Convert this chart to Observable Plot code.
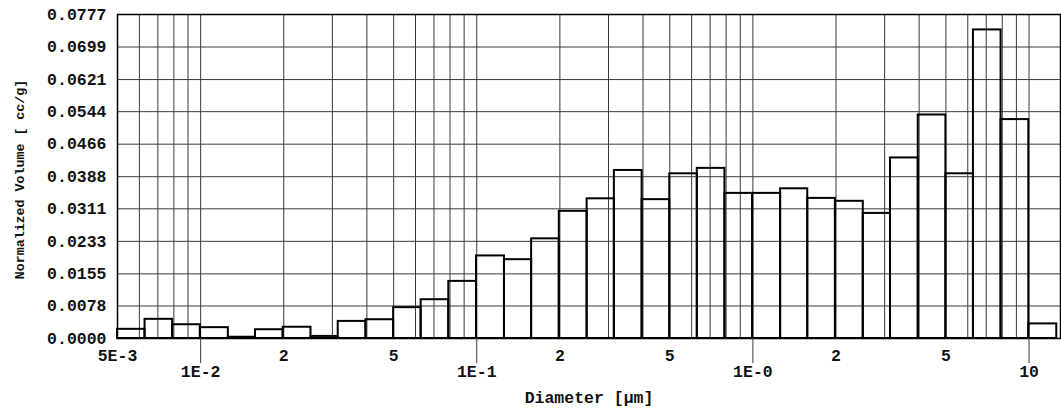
<!DOCTYPE html>
<html>
<head>
<meta charset="utf-8">
<script src="https://cdn.jsdelivr.net/npm/d3@7"></script>
<script src="https://cdn.jsdelivr.net/npm/@observablehq/plot@0.6"></script>
<style>
  html, body { margin: 0; padding: 0; background: #fff; }
  #chart svg { display: block; }
</style>
</head>
<body>
<div id="chart"></div>
<script>
// Bin edges (diameter, µm) – 0.1-decade bins from 5E-3 to ~12.6
const binEdges = [0.005, 0.00629, 0.00792, 0.00998, 0.0126, 0.0158, 0.0199, 0.0251, 0.0315, 0.0397,
  0.05, 0.0629, 0.0792, 0.0998, 0.126, 0.158, 0.199, 0.251, 0.315, 0.397,
  0.5, 0.629, 0.792, 0.998, 1.26, 1.58, 1.99, 2.51, 3.15, 3.97,
  5.0, 6.29, 7.92, 9.98, 12.6];
// Normalized volume per bin (cc/g)
const volumes = [0.0022, 0.0046, 0.0033, 0.0026, 0.0003, 0.0021, 0.0027, 0.0005, 0.0041, 0.0045,
  0.0074, 0.0093, 0.0137, 0.0198, 0.0189, 0.0239, 0.0305, 0.0335, 0.0403, 0.0333,
  0.0395, 0.0408, 0.0348, 0.0348, 0.0359, 0.0336, 0.0329, 0.0300, 0.0433, 0.0536,
  0.0395, 0.0740, 0.0525, 0.0035];
// Y tick labels
const yTickLabels = ["0.0000", "0.0078", "0.0155", "0.0233", "0.0311", "0.0388",
  "0.0466", "0.0544", "0.0621", "0.0699", "0.0777"];
// Vertical grid (log minor lines)
const xGrid = [0.006, 0.007, 0.008, 0.009,
  0.01, 0.02, 0.03, 0.04, 0.05, 0.06, 0.07, 0.08, 0.09,
  0.1, 0.2, 0.3, 0.4, 0.5, 0.6, 0.7, 0.8, 0.9,
  1, 2, 3, 4, 5, 6, 7, 8, 9, 10];
// X tick labels: first row and decade row
const xMinorTicks = [0.005, 0.02, 0.05, 0.2, 0.5, 2, 5];
const xMinorLabels = ["5E-3", "2", "5", "2", "5", "2", "5"];
const xMajorTicks = [0.01, 0.1, 1, 10];
const xMajorLabels = ["1E-2", "1E-1", "1E-0", "10"];
const xTitle = "Diameter [µm]";
const yTitle = "Normalized Volume [ cc/g]";

const bins = volumes.map((v, i) => ({lo: binEdges[i], hi: binEdges[i + 1], v}));
const yTicks = yTickLabels.map(Number);
const minorRows = xMinorTicks.map((x, i) => ({x, label: xMinorLabels[i]}));
const majorRows = xMajorTicks.map((x, i) => ({x, label: xMajorLabels[i]}));

const font = "'Liberation Mono', 'DejaVu Sans Mono', monospace";
const gridColor = "#3a3a3a";
const ink = "#111";

const chart = Plot.plot({
  width: 1061,
  height: 410,
  marginTop: 14,
  marginBottom: 72,
  marginLeft: 117,
  marginRight: 1,
  style: {fontFamily: font, fontWeight: "bold", fontSize: "16px", color: ink, background: "#fff"},
  x: {type: "log", domain: [0.005, 13], axis: null},
  y: {domain: [0, 0.0777], axis: null},
  marks: [
    Plot.ruleX(xGrid, {stroke: gridColor, strokeWidth: 1}),
    Plot.ruleY(yTicks, {stroke: gridColor, strokeWidth: 1}),
    Plot.rectY(bins, {x1: "lo", x2: "hi", y: "v", fill: "none", stroke: "#000", strokeWidth: 2}),
    Plot.frame({stroke: "#000", strokeWidth: 1.5}),
    Plot.axisY(yTicks, {
      tickSize: 0, tickPadding: 11, label: null,
      tickFormat: (d, i) => yTickLabels[i],
      fontSize: 16.5, fontWeight: "bold"
    }),
    Plot.axisX(xMajorTicks, {
      anchor: "bottom", tickSize: 25, label: null, tickFormat: () => "",
      stroke: gridColor, strokeWidth: 1
    }),
    Plot.text(minorRows, {x: "x", text: "label", frameAnchor: "bottom", dy: 22,
      fontSize: 16.5, fontWeight: "bold", fill: ink}),
    Plot.text(majorRows, {x: "x", text: "label", frameAnchor: "bottom", dy: 38,
      fontSize: 16.5, fontWeight: "bold", fill: ink}),
    Plot.text([xTitle], {frameAnchor: "bottom", dy: 64, fontSize: 16.5, fontWeight: "bold", fill: ink}),
    Plot.text([yTitle], {frameAnchor: "left", textAnchor: "middle", dx: -98, dy: 3, rotate: -90,
      fontSize: 13.3, fontWeight: "bold", fill: ink})
  ]
});
document.getElementById("chart").appendChild(chart);
</script>
</body>
</html>
